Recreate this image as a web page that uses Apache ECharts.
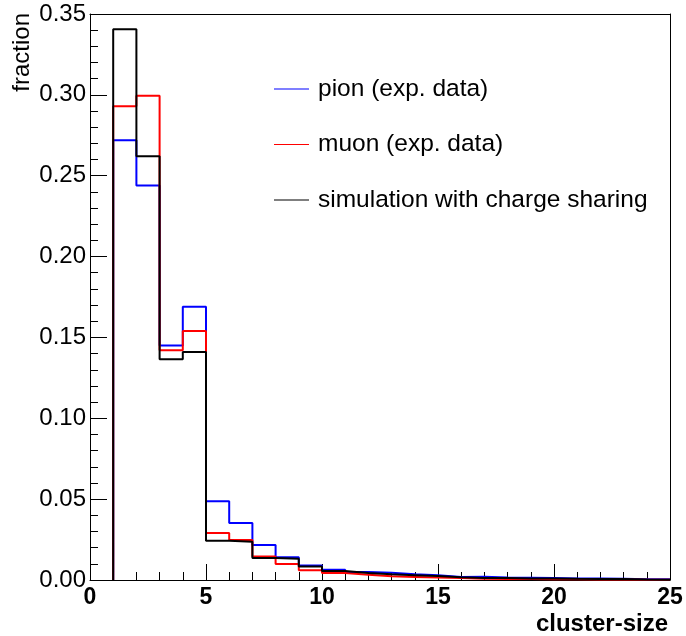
<!DOCTYPE html>
<html lang="en">
    <head>
        <meta charset="UTF-8" />
        <script src="https://cdn.jsdelivr.net/npm/echarts@6.0.0/dist/echarts.min.js"></script>
        <title>cluster-size</title>
        <style>
            html, body { margin: 0; padding: 0; background: #fff; }
            #chart { width: 686px; height: 636px; }
        </style>
    </head>
    <body>
        <div id="chart"></div>
        <script type="text/javascript">
            // lower bin edges (bin width 1)
            var binEdges = [1, 2, 3, 4, 5, 6, 7, 8, 9, 10, 11, 12, 13, 14, 15, 16, 17, 18, 19, 20, 21, 22, 23, 24];
            var pion = [0.272, 0.244, 0.145, 0.169, 0.0487, 0.0352, 0.0217, 0.0140, 0.0089, 0.0064, 0.0050, 0.0045,
                0.0035, 0.0029, 0.0019, 0.0020, 0.0015, 0.0014, 0.0012, 0.0010, 0.0009, 0.0007, 0.0005, 0.0004];
            var muon = [0.293, 0.2995, 0.142, 0.154, 0.0290, 0.0247, 0.0146, 0.0099, 0.0061, 0.0044, 0.0033, 0.0023,
                0.0019, 0.0015, 0.0013, 0.0008, 0.0006, 0.0006, 0.0005, 0.0004, 0.0003, 0.0003, 0.0002, 0.0002];
            var sim = [0.3405, 0.262, 0.1365, 0.141, 0.0242, 0.0236, 0.0136, 0.0131, 0.0083, 0.0055, 0.0043, 0.0035,
                0.0030, 0.0024, 0.0017, 0.0012, 0.0012, 0.0010, 0.0009, 0.0007, 0.0006, 0.0006, 0.0003, 0.0002];
            var seriesNames = ["pion (exp. data)", "muon (exp. data)", "simulation with charge sharing"];
            var yTicks = [0, 0.05, 0.1, 0.15, 0.2, 0.25, 0.3, 0.35];

            // histogram outline: start at 0 on the first edge, close on the last edge
            function steps(values) {
                var pts = [[binEdges[0], 0]];
                for (var i = 0; i < values.length; i++) pts.push([binEdges[i], values[i]]);
                var last = binEdges[binEdges.length - 1] + 1;
                pts.push([last, values[values.length - 1]]);
                pts.push([last, 0]);
                return pts;
            }

            function hist(name, values, color) {
                return {
                    name: name,
                    type: "line",
                    step: "end",
                    symbol: "none",
                    itemStyle: { color: color },
                    lineStyle: { color: color, width: 2 },
                    data: steps(values),
                    animation: false,
                };
            }

            var chart = echarts.init(document.getElementById("chart"));

            var font = "'Liberation Sans', Arial, Helvetica, sans-serif";

            // plain axis used only to draw the top and right frame lines
            function frameAxis(pos) {
                return {
                    type: "value",
                    position: pos,
                    min: 0,
                    max: 1,
                    axisLine: { show: true, onZero: false, lineStyle: { color: "#000", width: 1 } },
                    axisTick: { show: false },
                    axisLabel: { show: false },
                    splitLine: { show: false },
                };
            }

            var option = {
                backgroundColor: "#fff",
                textStyle: { fontFamily: font },
                grid: { left: 90, right: 16, top: 14, bottom: 56 },
                legend: {
                    orient: "vertical",
                    left: 269,
                    top: 71,
                    icon: "rect",
                    itemWidth: 35,
                    itemHeight: 1,
                    itemGap: 29.5,
                    data: seriesNames,
                    textStyle: {
                        fontFamily: font,
                        fontSize: 24.5,
                        lineHeight: 26,
                        color: "#000",
                        padding: [0, 0, 0, 4],
                    },
                },
                xAxis: [
                    {
                        type: "value",
                        min: 0,
                        max: 25,
                        interval: 5,
                        name: "cluster-size",
                        nameLocation: "end",
                        nameGap: -2,
                        nameTextStyle: {
                            fontFamily: font,
                            fontSize: 24,
                            fontWeight: "bold",
                            color: "#000",
                            align: "right",
                            verticalAlign: "top",
                            padding: [32, 0, 0, 0],
                        },
                        axisLine: { show: true, onZero: false, lineStyle: { color: "#000", width: 1 } },
                        axisTick: { show: true, inside: true, length: 16, lineStyle: { color: "#000", width: 1 } },
                        minorTick: { show: true, splitNumber: 5, length: 8, lineStyle: { color: "#000", width: 1 } },
                        splitLine: { show: false },
                        axisLabel: {
                            fontFamily: font,
                            fontSize: 23,
                            fontWeight: "bold",
                            color: "#000",
                            margin: 6,
                        },
                    },
                    frameAxis("top"),
                ],
                yAxis: [
                    {
                        type: "value",
                        min: 0,
                        max: yTicks[yTicks.length - 1],
                        interval: 0.05,
                        axisLine: { show: true, onZero: false, lineStyle: { color: "#000", width: 1 } },
                        axisTick: { show: true, inside: true, length: 17, lineStyle: { color: "#000", width: 1 } },
                        minorTick: { show: true, splitNumber: 5, length: 8, lineStyle: { color: "#000", width: 1 } },
                        splitLine: { show: false },
                        axisLabel: {
                            fontFamily: font,
                            fontSize: 24,
                            color: "#000",
                            margin: 4,
                            formatter: function (v) {
                                return v.toFixed(2);
                            },
                        },
                    },
                    frameAxis("right"),
                ],
                graphic: [
                    {
                        type: "text",
                        x: 22,
                        y: 13,
                        rotation: Math.PI / 2,
                        style: {
                            text: "fraction",
                            font: "24px " + font,
                            fill: "#000",
                            align: "right",
                            verticalAlign: "middle",
                        },
                    },
                ],
                series: [
                    hist(seriesNames[0], pion, "#0000ff"),
                    hist(seriesNames[1], muon, "#ff0000"),
                    hist(seriesNames[2], sim, "#000000"),
                ],
            };

            chart.setOption(option);
        </script>
    </body>
</html>
